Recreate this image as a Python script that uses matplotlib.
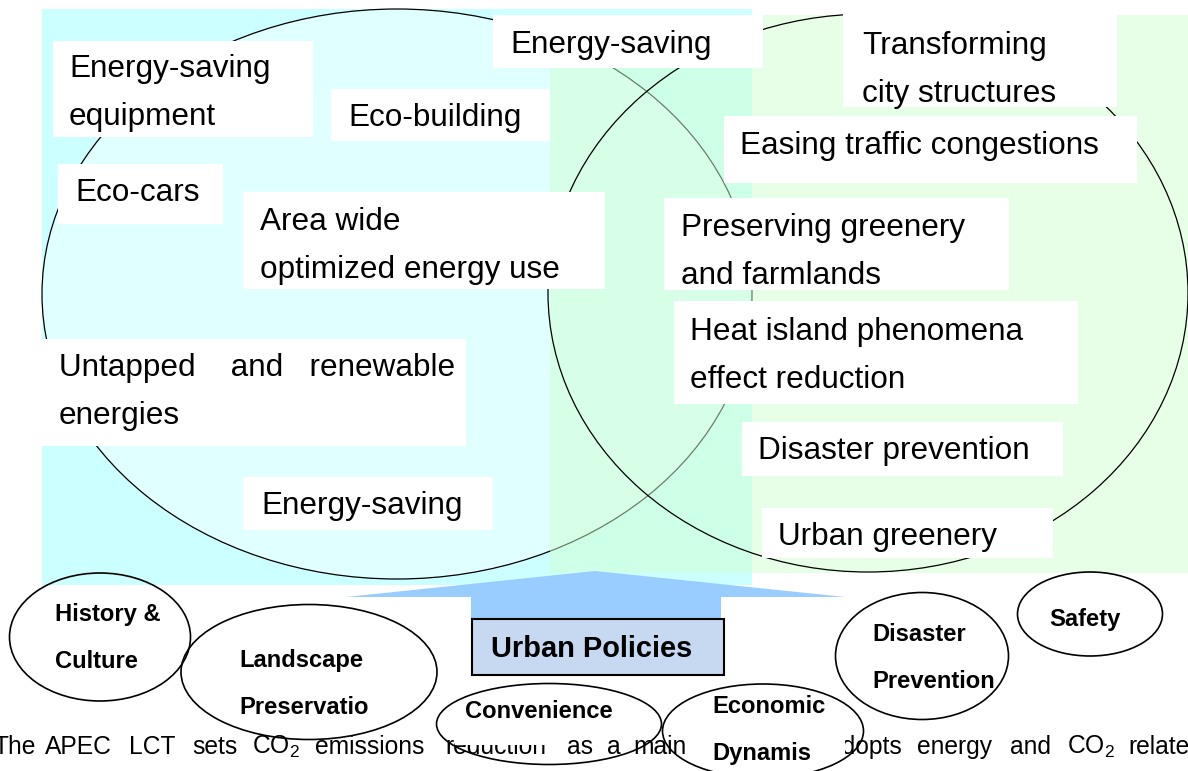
import matplotlib
matplotlib.use("Agg")
import matplotlib.pyplot as plt
from matplotlib.patches import Rectangle, Ellipse, Polygon

plt.rcParams["font.family"] = ["Liberation Sans", "DejaVu Sans"]
plt.rcParams["mathtext.fontset"] = "custom"
plt.rcParams["mathtext.rm"] = "Liberation Sans"

# labels inside the two big circles (low-carbon side / urban side)
box_labels = [
    "Energy-saving\nequipment",
    "Eco-building",
    "Eco-cars",
    "Area wide\noptimized energy use",
    "Untapped    and   renewable\nenergies",
    "Energy-saving",
    "Energy-saving",
    "Transforming\ncity structures",
    "Easing traffic congestions",
    "Preserving greenery\nand farmlands",
    "Heat island phenomena\neffect reduction",
    "Disaster prevention",
    "Urban greenery",
]
# small policy bubbles
bubble_labels = [
    "History &\nCulture",
    "Landscape\nPreservatio",
    "Convenience",
    "Economic\nDynamis",
    "Disaster\nPrevention",
    "Safety",
]
center_label = "Urban Policies"
caption_words = ["The", "APEC", "LCT", "sets", "CO$_2$", "emissions", "reduction",
                 "as", "a", "main", "adopts", "energy", "and", "CO$_2$", "related"]

# layout (pixel coords, y down)
box_rects = [(53, 41, 313, 137), (331, 89, 550, 141), (58, 164, 223, 224),
             (243, 192, 605, 289), (42, 339, 466, 446), (243, 477, 493, 530),
             (493, 15, 763, 68), (843, 12, 1117, 107), (724, 116, 1137, 183),
             (664, 198, 1009, 290), (674, 301, 1078, 404), (742, 422, 1063, 476),
             (762, 508, 1053, 558)]
box_text_pos = [(69, 77), (348, 126), (75, 201), (260, 230), (59, 376), (261, 514),
                (510, 53), (862, 54), (740, 154), (681, 236), (690, 340),
                (758, 459), (778, 545)]
bubble_shapes = [(100, 637, 181, 128), (309, 672, 256, 135), (549, 724, 225, 81),
                 (763, 731, 201, 94), (922, 656, 173, 127), (1090, 614, 145, 84)]
bubble_text_pos = [(55, 621), (239, 667), (465, 718), (712, 713), (872, 641), (1049, 626)]
# white backing of some bubble labels that hides part of the caption
label_masks = [(455, 695, 560, 745), (700, 732, 845, 771)]
caption_x = [-7, 45, 129, 192, 252, 315, 445, 567, 607, 633, 828, 917, 1010, 1067, 1128]

W, H = 1188, 771
fig = plt.figure(figsize=(W / 100, H / 100), dpi=100)
ax = fig.add_axes([0, 0, 1, 1])
ax.set_xlim(0, W)
ax.set_ylim(H, 0)
ax.axis("off")

# background panels and the two big circles
ax.add_patch(Rectangle((42, 9), 710, 576, facecolor="#ccffff", edgecolor="none", zorder=1))
ax.add_patch(Ellipse((397, 294), 710, 570, facecolor="#e0ffff", edgecolor="black", lw=0.9, zorder=2))
ax.add_patch(Rectangle((550, 15), 640, 558, facecolor="#d0ffd0", alpha=0.5, edgecolor="none", zorder=3))
ax.add_patch(Ellipse((868, 293), 640, 558, facecolor="none", edgecolor="black", lw=0.9, zorder=4))

for (x0, y0, x1, y1), (tx, ty), lab in zip(box_rects, box_text_pos, box_labels):
    ax.add_patch(Rectangle((x0, y0), x1 - x0, y1 - y0, facecolor="white", edgecolor="none", zorder=5))
    for i, line in enumerate(lab.split("\n")):
        ax.text(tx, ty + i * 48, line, fontsize=22.7, va="baseline", ha="left", zorder=6)

# arrow up into the circles
arrow = [(346, 597), (595, 571), (845, 597), (721, 597), (721, 619), (471, 619), (471, 597)]
ax.add_patch(Polygon(arrow, closed=True, facecolor="#99ccff", edgecolor="none", zorder=5))
ax.add_patch(Rectangle((472, 619), 252, 56, facecolor="#c6d9f0", edgecolor="black", lw=1.5, zorder=6))
ax.text(491, 657, center_label, fontsize=20.9, fontweight="bold", va="baseline", zorder=7)

# caption line running under the bubbles
for w, x in zip(caption_words, caption_x):
    ax.text(x, 754, w, fontsize=17.7, va="baseline", ha="left", zorder=6)

for (x0, y0, x1, y1) in label_masks:
    ax.add_patch(Rectangle((x0, y0), x1 - x0, y1 - y0, facecolor="white", edgecolor="none", zorder=7))

for (cx, cy, bw, bh), (tx, ty), lab in zip(bubble_shapes, bubble_text_pos, bubble_labels):
    ax.add_patch(Ellipse((cx, cy), bw, bh, facecolor="none", edgecolor="black", lw=1.2, zorder=8))
    for i, line in enumerate(lab.split("\n")):
        ax.text(tx, ty + i * 47, line, fontsize=17.1, fontweight="bold", va="baseline", zorder=9)

fig.savefig("out.png", dpi=100)
